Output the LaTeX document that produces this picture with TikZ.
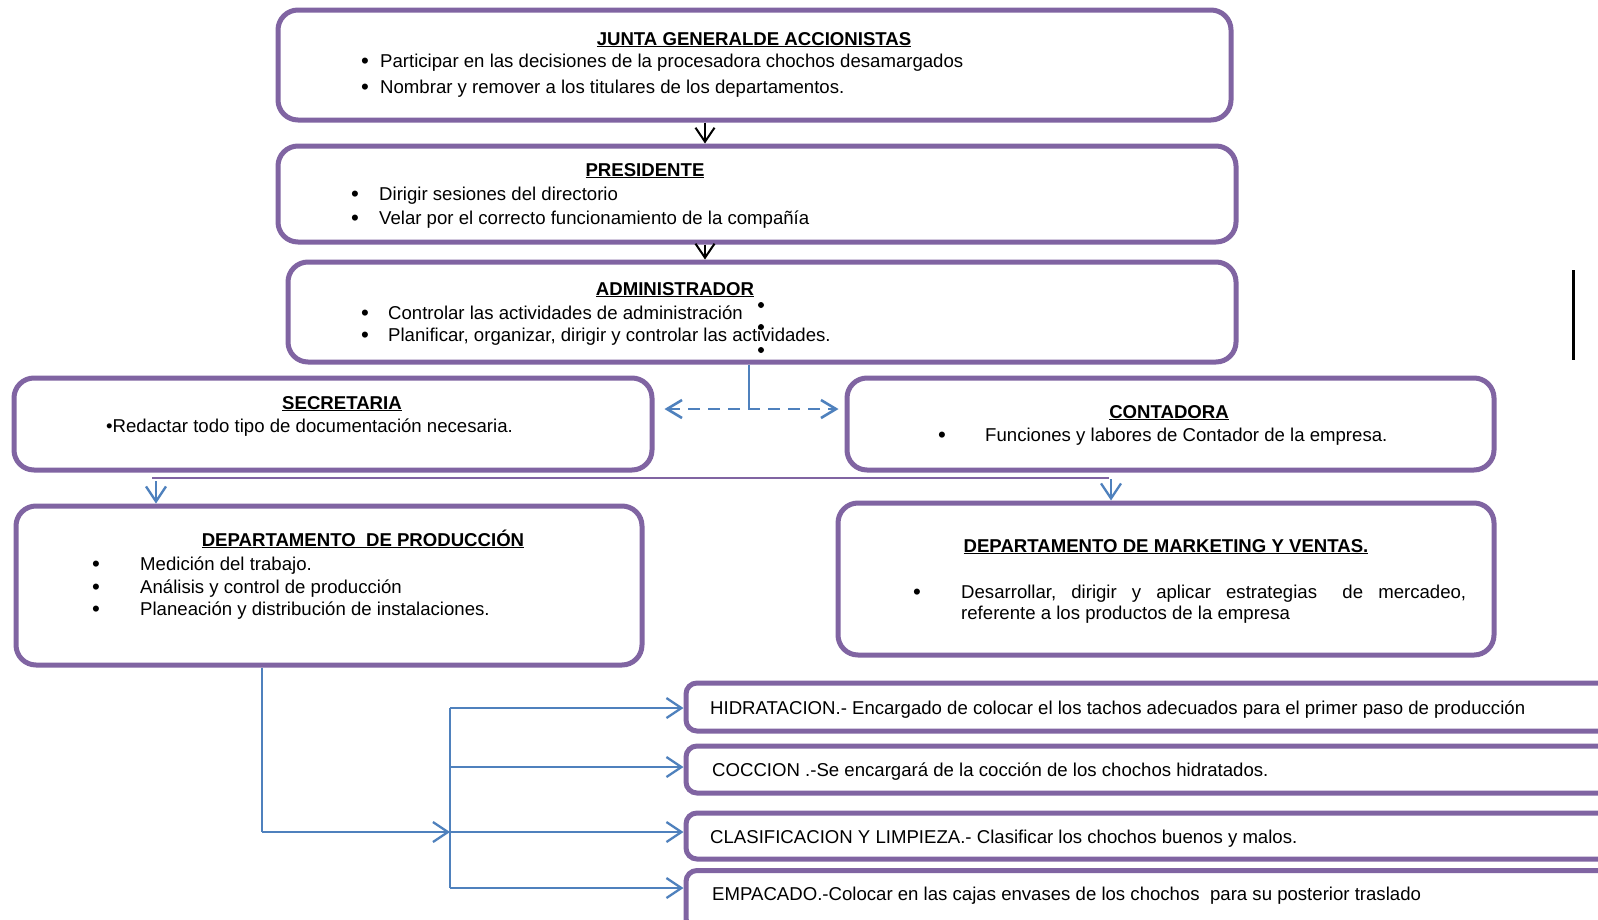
\documentclass[tikz,border=0pt]{standalone}
\usepackage{fontspec}
\setmainfont{Liberation Sans}
\usetikzlibrary{arrows.meta,calc}
\definecolor{purp}{HTML}{8064A2}
\definecolor{bluel}{HTML}{4F81BD}
\newcommand{\ttl}[1]{\underline{\textbf{#1}}}
\newcommand{\bu}{\raisebox{-1.3pt}{\scalebox{1.2}{•}}}
\begin{document}
\begin{tikzpicture}[x=1pt,y=-1pt,
  font=\fontsize{18.6}{22}\selectfont,
  box/.style={draw=purp, line width=5pt, rounded corners=20pt, fill=white, inner sep=0pt, rectangle},
  sbox/.style={box, rounded corners=11pt},
  txt/.style={anchor=base west, inner sep=0pt},
  ttlnode/.style={anchor=base, inner sep=0pt},
  bul/.style={anchor=base, inner sep=0pt},
  dot/.style={circle, fill=black, inner sep=0pt, minimum size=6pt},
  blk/.style={draw=black, line width=2pt, -{Straight Barb[length=14pt,width=19pt]}},
  bl/.style={draw=bluel, line width=2.3pt},
  bla/.style={bl, -{Straight Barb[length=15pt,width=20pt]}},
  bldash/.style={bl, line width=2.6pt, dash pattern=on 12pt off 8pt, {Straight Barb[length=15pt,width=18pt]}-{Straight Barb[length=15pt,width=18pt]}},
  pl/.style={draw=purp, line width=2.2pt}
]
\useasboundingbox (0,0) rectangle (1598,919);
\clip (0,0) rectangle (1598,919);
\fill[white] (0,0) rectangle (1598,919);

% boxes
\node[box, minimum width=953pt, minimum height=110pt] (junta) at (754.5,65) {};
\node[box, minimum width=958pt, minimum height=96pt] (pres) at (757,194) {};
\node[box, minimum width=948pt, minimum height=100pt] (admin) at (762,312) {};
\node[box, minimum width=638pt, minimum height=92pt] (sec) at (333,424) {};
\node[box, minimum width=647pt, minimum height=92pt] (cont) at (1170.5,424) {};
\node[box, minimum width=626pt, minimum height=159pt] (prod) at (329,585.5) {};
\node[box, minimum width=656pt, minimum height=152pt] (mkt) at (1166,579) {};
\node[sbox, minimum width=974pt, minimum height=48pt] (b1) at (1173,707) {};
\node[sbox, minimum width=974pt, minimum height=47pt] (b2) at (1173,769.5) {};
\node[sbox, minimum width=974pt, minimum height=46pt] (b3) at (1173,836) {};
\node[sbox, minimum width=974pt, minimum height=59pt] (b4) at (1173,900) {};

% junta text
\node[ttlnode] (tj) at (754,45) {\ttl{JUNTA GENERALDE ACCIONISTAS}};
\node[bul] (bj1) at (365,67) {\bu};
\node[txt] (j1) at (380,67) {Participar en las decisiones de la procesadora chochos desamargados};
\node[bul] (bj2) at (365,93) {\bu};
\node[txt] (j2) at (380,93) {Nombrar y remover a los titulares de los departamentos.};

% presidente text
\node[ttlnode] (tp) at (645,176) {\ttl{PRESIDENTE}};
\node[bul] (bp1) at (355,200) {\bu};
\node[txt] (p1) at (379,200) {Dirigir sesiones del directorio};
\node[bul] (bp2) at (355,224) {\bu};
\node[txt] (p2) at (379,224) {Velar por el correcto funcionamiento de la compañía};

% administrador text
\node[ttlnode] (ta) at (675,295) {\ttl{ADMINISTRADOR}};
\node[bul] (ba1) at (365,319) {\bu};
\node[txt] (a1) at (388,319) {Controlar las actividades de administración};
\node[bul] (ba2) at (365,341) {\bu};
\node[txt] (a2) at (388,341) {Planificar, organizar, dirigir y controlar las actividades.};
\node[dot] (d1) at (761,305) {};
\node[dot] (d2) at (761,327) {};
\node[dot] (d3) at (761,350) {};

% secretaria text
\node[ttlnode] (ts) at (342,409) {\ttl{SECRETARIA}};
\node[txt] (s1) at (106,432) {•Redactar todo tipo de documentación necesaria.};

% contadora text
\node[ttlnode] (tc) at (1169,418) {\ttl{CONTADORA}};
\node[bul] (bc1) at (942,441) {\bu};
\node[txt] (c1) at (985,441) {Funciones y labores de Contador de la empresa.};

% produccion text
\node[ttlnode] (tpr) at (363,546) {\ttl{DEPARTAMENTO\ \ DE PRODUCCIÓN}};
\node[bul] (bpr1) at (96,570) {\bu};
\node[txt] (pr1) at (140,570) {Medición del trabajo.};
\node[bul] (bpr2) at (96,593) {\bu};
\node[txt] (pr2) at (140,593) {Análisis y control de producción};
\node[bul] (bpr3) at (96,615) {\bu};
\node[txt] (pr3) at (140,615) {Planeación y distribución de instalaciones.};

% marketing text
\node[ttlnode] (tm) at (1166,552) {\ttl{DEPARTAMENTO DE MARKETING Y VENTAS.}};
\node[bul] (bm1) at (917,598) {\bu};
\node[txt] (m1) at (961,598) {\hbox to 505pt{Desarrollar,\hfill dirigir\hfill y\hfill aplicar\hfill estrategias\hfill\ \ de\hfill mercadeo,}};
\node[txt] (m2) at (961,619) {referente a los productos de la empresa};

% bottom texts
\node[txt] (h1) at (710,714) {HIDRATACION.- Encargado de colocar el los tachos adecuados para el primer paso de producción};
\node[txt] (h2) at (712,776) {COCCION .-Se encargará de la cocción de los chochos hidratados.};
\node[txt] (h3) at (710,843) {CLASIFICACION Y LIMPIEZA.- Clasificar los chochos buenos y malos.};
\node[txt] (h4) at (712,900) {EMPACADO.-Colocar en las cajas envases de los chochos\ \ para su posterior traslado};

% black arrows
\coordinate (ax) at (705,0);
\draw[blk] (junta.south -| ax) -- (pres.north -| ax);
\draw[blk] (pres.south -| ax) -- (admin.north -| ax);

% right black bar
\coordinate (r1) at (1573,270);
\coordinate (r2) at (1573,360);
\draw[line width=3pt] (r1) -- (r2);

% admin -> sec/cont
\coordinate (cj) at (749,409);
\draw[bl] (admin.south -| cj) -- (cj);
\draw[bldash, shorten <=10pt, shorten >=6pt] (sec.east |- cj) -- (cont.west |- cj);

% purple line and down arrows
\coordinate (pl1) at (152,478);
\coordinate (pl2) at (1109,478);
\draw[pl] (pl1) -- (pl2);
\coordinate (da1) at (156,481);
\coordinate (da2) at (1111,479);
\draw[bla] (da1) -- (prod.north -| da1);
\draw[bla] (da2) -- (mkt.north -| da2);

% production connectors
\coordinate (pv) at (262,832);
\coordinate (bus1) at (450,708);
\coordinate (bus2) at (450,767);
\coordinate (bus3) at (450,832);
\coordinate (bus4) at (450,888);
\draw[bl] (prod.south -| pv) -- (pv);
\draw[bla] (pv) -- (bus3);
\draw[bl] (bus1) -- (bus4);
\draw[bla] (bus1) -- (b1.west |- bus1);
\draw[bla] (bus2) -- (b2.west |- bus2);
\draw[bla] (bus3) -- (b3.west |- bus3);
\draw[bla] (bus4) -- (b4.west |- bus4);
\end{tikzpicture}
\end{document}
